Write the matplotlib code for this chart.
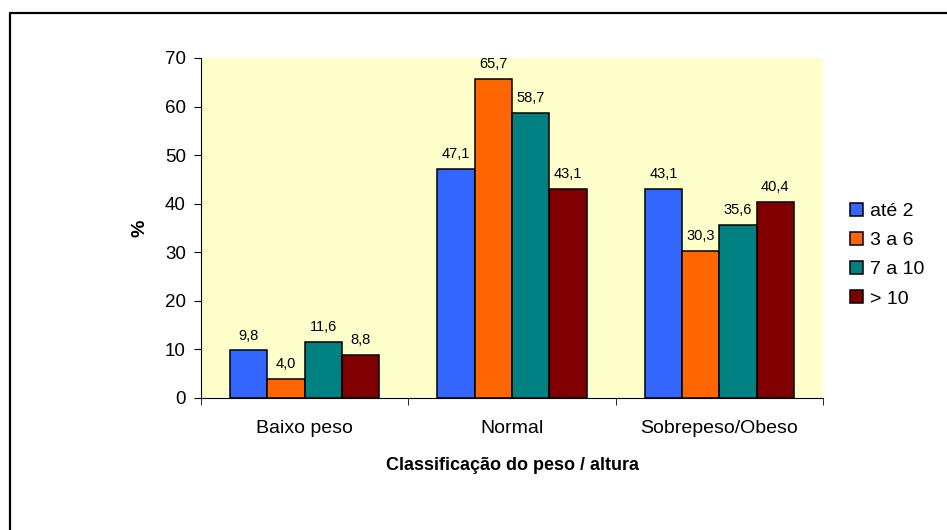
import numpy as np
import matplotlib.pyplot as plt
from matplotlib.lines import Line2D

plt.rcParams['font.family'] = ['Liberation Sans', 'DejaVu Sans']

categorias = ['Baixo peso', 'Normal', 'Sobrepeso/Obeso']
series = ['até 2', '3 a 6', '7 a 10', '> 10']
valores = [
    [9.8, 47.1, 43.1],
    [4.0, 65.7, 30.3],
    [11.6, 58.7, 35.6],
    [8.8, 43.1, 40.4],
]
cores = ['#3366FF', '#FF6600', '#008080', '#800000']

fig = plt.figure(figsize=(9.47, 5.30), dpi=100)
# moldura só em cima e à esquerda (o resto ficou cortado)
fig.lines.append(Line2D([10/947, 10/947, 1], [0, 1 - 12.5/530, 1 - 12.5/530],
                        transform=fig.transFigure, color='black', linewidth=1.6))
ax = fig.add_axes([201/947, 1 - 398/530, (823-201)/947, (398-58)/530])
ax.set_facecolor('#FFFFCC')

x = np.arange(len(categorias))
w = 0.18
for i, (s, v, c) in enumerate(zip(series, valores, cores)):
    pos = x + (i - 1.5) * w
    bars = ax.bar(pos, v, w, color=c, edgecolor='black', linewidth=1.1, label=s)
    for b, val in zip(bars, v):
        ax.text(b.get_x() + b.get_width()/2, val + 1.6, f'{val:.1f}'.replace('.', ','),
                ha='center', va='bottom', fontsize=10.5)

ax.set_xlim(-0.5, 2.5)
ax.set_ylim(0, 70)
ax.set_yticks(range(0, 71, 10))
ax.set_xticks(x)
ax.set_xticklabels(categorias, fontsize=14)
ax.set_xticks([-0.5, 0.5, 1.5, 2.5], minor=True)
ax.tick_params(axis='x', which='major', length=0, pad=16)
ax.tick_params(axis='x', which='minor', length=5, direction='out')
ax.tick_params(axis='y', labelsize=13.5, length=5, pad=6)
for sp in ['top', 'right']:
    ax.spines[sp].set_visible(False)
ax.set_ylabel('%', fontsize=14, fontweight='bold', labelpad=12)
ax.set_xlabel('Classificação do peso / altura', fontsize=13, fontweight='bold', labelpad=14)

leg = ax.legend(loc='center left', bbox_to_anchor=(1.043, 0.42), frameon=False, fontsize=14,
                handlelength=0.67, handleheight=0.67, handletextpad=0.35, labelspacing=0.6,
                borderpad=0, borderaxespad=0)

fig.savefig('out.png', dpi=100)
